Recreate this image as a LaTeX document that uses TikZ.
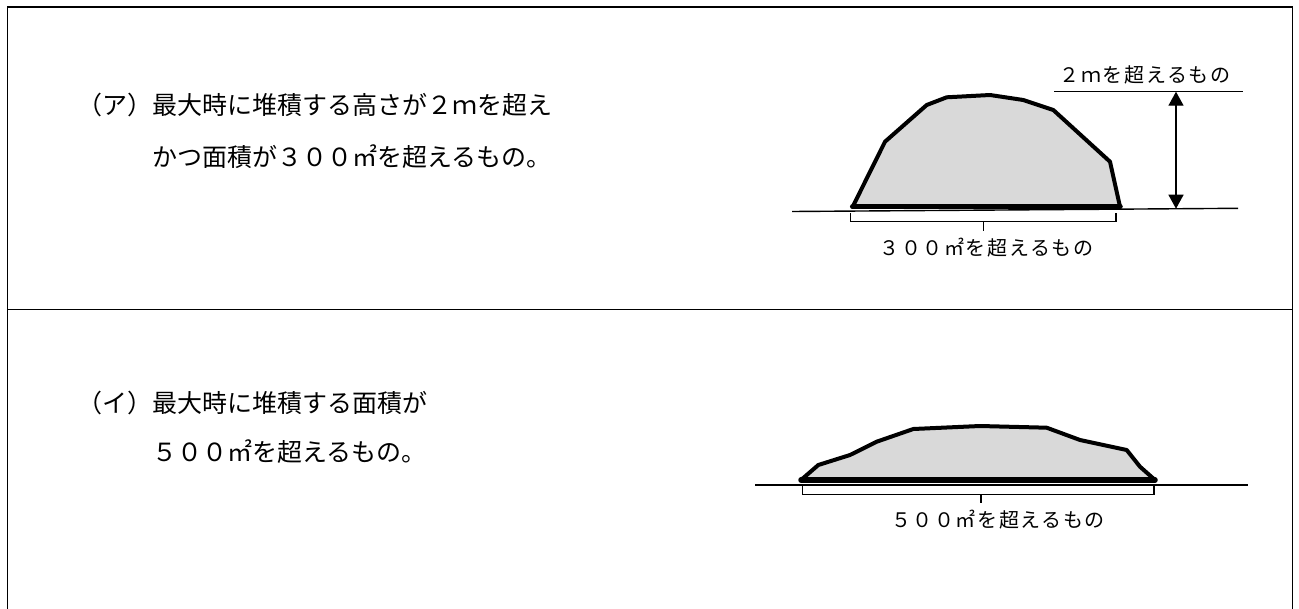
\documentclass[tikz,border=0pt]{standalone}
\usepackage{fontspec}
\setmainfont{Noto Sans CJK JP}[LetterSpace=8]
\newfontfamily\bodyjp{Noto Sans CJK JP}
\usetikzlibrary{arrows.meta}

\tikzset{
  txt/.style={anchor=west,inner sep=0pt,font=\bodyjp\fontsize{25}{30}\selectfont},
  lbl/.style={inner sep=0pt,font=\fontsize{20}{24}\selectfont},
  frame/.style={line width=1.8pt},
  ground/.style={line width=1.4pt},
  pile/.style={draw=black,line width=4pt,line join=round,line cap=round},
  base/.style={line width=5.5pt,line cap=round},
  brace/.style={line width=1.3pt},
  dim/.style={line width=1.4pt,{Triangle[length=14pt,width=15pt]}-{Triangle[length=14pt,width=15pt]}}
}

\begin{document}
\begin{tikzpicture}[x=1pt,y=-1pt]
\useasboundingbox (0,0) rectangle (1299,608);
% frame, open at the bottom
\draw[frame] (7.5,620) -- (7.5,7) -- (1292.5,7) -- (1292.5,620);
\draw[frame] (7.5,309.5) -- (1292.5,309.5);

%%% (ア)
\node[txt] (a1) at (77,105) {（ア）最大時に堆積する高さが２ｍを超え};
\node[txt] (a2) at (152,157) {かつ面積が３００㎡を超えるもの。};

\coordinate (ga) at (792,211.5);
\coordinate (gb) at (1238,208.3);
\draw[ground] (ga) -- (gb);
\coordinate (pa) at (852.7,206.7);
\coordinate (pb) at (1120,206.7);
\fill[black!15] (pa) -- (885,141.7) -- (926.7,105) -- (946.7,97.3) -- (990,95)
   -- (1023.3,100) -- (1053.3,110) -- (1110,161.7) -- (pb) -- cycle;
\draw[pile] (pa) -- (885,141.7) -- (926.7,105) -- (946.7,97.3) -- (990,95)
   -- (1023.3,100) -- (1053.3,110) -- (1110,161.7) -- (pb);
\draw[base] (pa) -- (pb);

% width bracket
\coordinate (ba) at (850.7,213);
\coordinate (bb) at (1116,213);
\coordinate (bm) at (983.3,221.7);
\draw[brace] (ba) |- (bm) -| (bb);
\draw[brace] (bm) -- ++(0,9.5);
\node[lbl] (w1) at (986.5,248) {３００㎡を超えるもの};

% height
\coordinate (ht) at (1054.3,91.7);
\coordinate (hr) at (1242.7,91.7);
\draw[ground] (ht) -- (hr);
\coordinate (hu) at (1176,91.7);
\coordinate (hd) at (1176,208.7);
\draw[dim] (hu) -- (hd);
\node[lbl] (h1) at (1145,75) {２ｍを超えるもの};

%%% (イ)
\node[txt] (b1) at (77,403) {（イ）最大時に堆積する面積が};
\node[txt] (b2) at (152,452) {５００㎡を超えるもの。};

\coordinate (gc) at (755,485);
\coordinate (gd) at (1248,485);
\draw[ground] (gc) -- (gd);
\coordinate (qa) at (801,480);
\coordinate (qb) at (1155,480);
\fill[black!15] (qa) -- (818.3,465) -- (850,455) -- (876.7,441.7) -- (913.3,429)
   -- (980,426) -- (1046.7,427.7) -- (1080,440) -- (1126.7,450) -- (1140,466.7)
   -- (qb) -- cycle;
\draw[pile] (qa) -- (818.3,465) -- (850,455) -- (876.7,441.7) -- (913.3,429)
   -- (980,426) -- (1046.7,427.7) -- (1080,440) -- (1126.7,450) -- (1140,466.7)
   -- (qb);
\draw[base] (qa) -- (qb);

\coordinate (ca) at (802.7,486);
\coordinate (cb) at (1154,486);
\coordinate (cm) at (981,494.3);
\draw[brace] (ca) |- (cm) -| (cb);
\draw[brace] (cm) -- ++(0,9);
\node[lbl] (w2) at (998,520) {５００㎡を超えるもの};
\end{tikzpicture}
\end{document}
